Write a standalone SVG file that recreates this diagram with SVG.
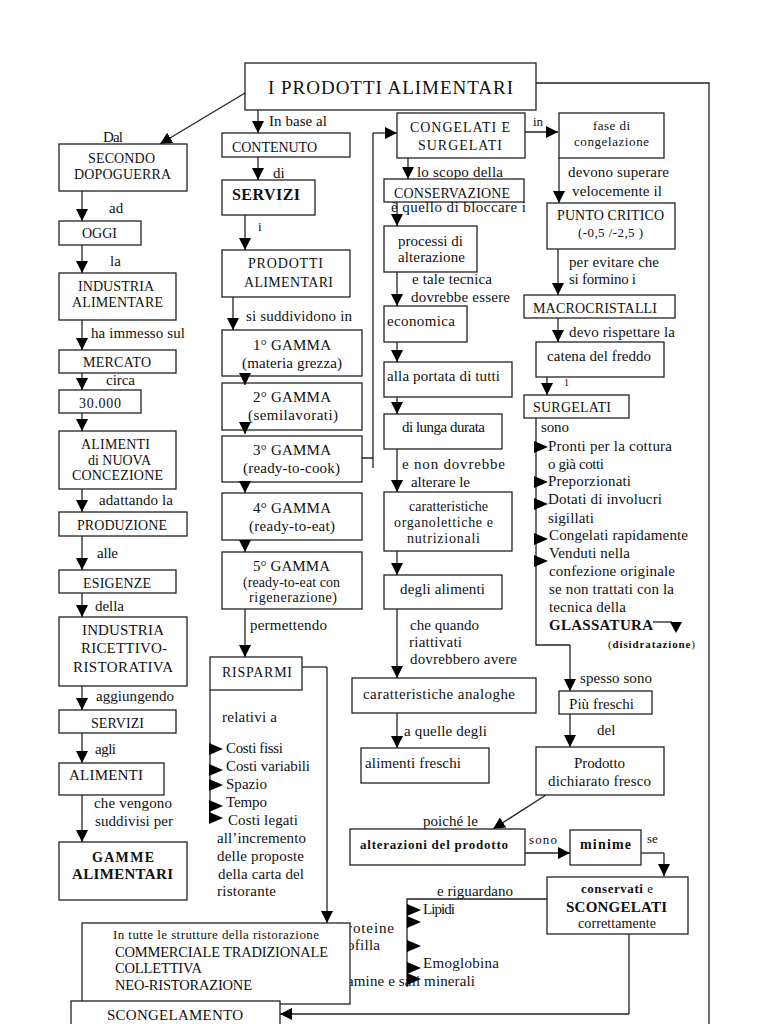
<svg xmlns="http://www.w3.org/2000/svg" width="768" height="1024" viewBox="0 0 768 1024">
<style>
.bx{fill:#fff;stroke:#222;stroke-width:1.3}
.ln{fill:none;stroke:#222;stroke-width:1.3}
.ar{marker-end:url(#ah)}
text{font-family:"Liberation Serif","Times New Roman",serif;fill:#111;font-size:14px}
.s16{font-size:16px}.s15{font-size:15px}.s13{font-size:13px}.s12{font-size:12px}.s11{font-size:11px}.s10{font-size:10px}
.b{font-weight:bold}.c{text-anchor:middle}
</style>
<defs>
<marker id="ah" viewBox="0 0 12 12" markerWidth="12" markerHeight="12" markerUnits="userSpaceOnUse" refX="12" refY="6" orient="auto"><path d="M0,0 L12,6 L0,12 z" fill="#000"/></marker>
<path id="bul" d="M0,-6 L14,0 L0,6 z" fill="#000"/>
</defs>
<rect width="768" height="1024" fill="#fff"/>

<g id="connectors">
<path class="ln ar" d="M245,93 L160,144"/>
<path class="ln ar" d="M82,191 V221"/>
<path class="ln ar" d="M82,245 V273"/>
<path class="ln ar" d="M82,320 V350"/>
<path class="ln ar" d="M82,373 V390"/>
<path class="ln ar" d="M82,413 V431"/>
<path class="ln ar" d="M82,489 V512"/>
<path class="ln ar" d="M82,536 V570"/>
<path class="ln ar" d="M82,593 V617"/>
<path class="ln ar" d="M82,686 V710"/>
<path class="ln ar" d="M82,733 V763"/>
<path class="ln ar" d="M82,795 V842"/>
<path class="ln ar" d="M258,110 V133"/>
<path class="ln ar" d="M258,157 V180"/>
<path class="ln ar" d="M245,215 V250"/>
<path class="ln ar" d="M233,297 V330"/>
<path class="ln" d="M362,458 H373 M373,468 V133"/>
<path class="ln ar" d="M373,133 H397"/>
<path class="ln ar" d="M245,609 V657"/>
<path class="ln" d="M302,667 H327"/>
<path class="ln ar" d="M327,667 V923"/>
<path class="ln" d="M210,690 V823"/>
<path class="ln ar" d="M525,132 H558"/>
<path class="ln ar" d="M559,158 V203"/>
<path class="ln ar" d="M558,249 V295"/>
<path class="ln ar" d="M558,318 V342"/>
<path class="ln ar" d="M547,377 V395"/>
<path class="ln" d="M536,418 V645 H570"/>
<path class="ln ar" d="M570,645 V691"/>
<path class="ln ar" d="M570,714 V747"/>
<path class="ln" d="M653,622 H672"/>
<path d="M670,622 L682,622 L676,633 z" fill="#000"/>
<path class="ln ar" d="M408,158 V179"/>
<path class="ln ar" d="M397,202 V226"/>
<path class="ln ar" d="M397,272 V306"/>
<path class="ln ar" d="M397,342 V362"/>
<path class="ln ar" d="M397,397 V414"/>
<path class="ln ar" d="M397,449 V492"/>
<path class="ln ar" d="M397,551 V575"/>
<path class="ln ar" d="M397,609 V678"/>
<path class="ln ar" d="M397,713 V748"/>
<path class="ln ar" d="M546,795 L493,829"/>
<path class="ln ar" d="M525,853 H570"/>
<path class="ln" d="M641,853 H664"/>
<path class="ln ar" d="M664,853 V876"/>
<path class="ln" d="M547,899 H407 V987"/>
<path class="ln" d="M629,934 V1014"/>
<path class="ln ar" d="M629,1014 H280"/>
<path class="ln" d="M536,83 H709 V1024"/>
</g>

<g id="n-top"><rect class="bx" x="245" y="63" width="291" height="47"/><text x="268" y="94" style="font-size:19px" textLength="245">I PRODOTTI ALIMENTARI</text></g>

<g id="n-secondo"><text x="103" y="142" class="s15" textLength="20">Dal</text><rect class="bx" x="59" y="144" width="128" height="47"/><text x="88" y="163" textLength="67">SECONDO</text><text x="74" y="179" textLength="97">DOPOGUERRA</text></g>
<text x="109" y="213" class="s15">ad</text>
<g id="n-oggi"><rect class="bx" x="59" y="221" width="82" height="24"/><text x="82" y="238" textLength="35">OGGI</text></g>
<text x="110" y="266" class="s15">la</text>
<g id="n-industria"><rect class="bx" x="59" y="273" width="117" height="47"/><text x="78" y="291" textLength="76">INDUSTRIA</text><text x="72" y="307" textLength="91">ALIMENTARE</text></g>
<text x="91" y="338" class="s15" textLength="94">ha immesso sul</text>
<g id="n-mercato"><rect class="bx" x="59" y="350" width="117" height="23"/><text x="83" y="367" textLength="68">MERCATO</text></g>
<text x="106" y="385" class="s15" textLength="29">circa</text>
<g id="n-30000"><rect class="bx" x="59" y="390" width="82" height="23"/><text x="79" y="408" textLength="42">30.000</text></g>
<g id="n-alimenti-nuova"><rect class="bx" x="59" y="431" width="117" height="58"/><text x="81" y="449" textLength="69">ALIMENTI</text><text x="88" y="465" textLength="63">di NUOVA</text><text x="72" y="480" textLength="91">CONCEZIONE</text></g>
<text x="99" y="505" class="s15" textLength="74">adattando la</text>
<g id="n-produzione"><rect class="bx" x="59" y="512" width="128" height="24"/><text x="77" y="530" textLength="90">PRODUZIONE</text></g>
<text x="97" y="558" class="s15" textLength="21">alle</text>
<g id="n-esigenze"><rect class="bx" x="59" y="570" width="117" height="23"/><text x="83" y="588" textLength="68">ESIGENZE</text></g>
<text x="95" y="611" class="s15" textLength="29">della</text>
<g id="n-ricettivo"><rect class="bx" x="59" y="617" width="128" height="69"/><text x="82" y="635" class="s15" textLength="82">INDUSTRIA</text><text x="81" y="653" class="s15" textLength="86">RICETTIVO-</text><text x="73" y="672" class="s15" textLength="100">RISTORATIVA</text></g>
<text x="96" y="701" class="s15" textLength="78">aggiungendo</text>
<g id="n-servizi-l"><rect class="bx" x="59" y="710" width="117" height="23"/><text x="91" y="728" textLength="53">SERVIZI</text></g>
<text x="95" y="754" class="s15" textLength="21">agli</text>
<g id="n-alimenti"><rect class="bx" x="59" y="763" width="105" height="32"/><text x="69" y="780" class="s15" textLength="74">ALIMENTI</text></g>
<text x="94" y="808" class="s15" textLength="78">che vengono</text>
<text x="95" y="826" class="s15" textLength="78">suddivisi per</text>
<g id="n-gamme"><rect class="bx" x="59" y="842" width="128" height="58"/><text x="92" y="862" class="b" textLength="62">GAMME</text><text x="72" y="879" class="b s15" textLength="101">ALIMENTARI</text></g>

<text x="269" y="126" class="s15" textLength="58">In base al</text>
<g id="n-contenuto"><rect class="bx" x="222" y="133" width="128" height="24"/><text x="232" y="152" textLength="85">CONTENUTO</text></g>
<text x="273" y="178" class="s15">di</text>
<g id="n-servizi"><rect class="bx" x="222" y="180" width="93" height="35"/><text x="232" y="200" class="b s16" textLength="68">SERVIZI</text></g>
<text x="258" y="231" class="s13">i</text>
<g id="n-prodotti"><rect class="bx" x="222" y="250" width="128" height="47"/><text x="248" y="268" textLength="75">PRODOTTI</text><text x="244" y="287" textLength="89">ALIMENTARI</text></g>
<text x="246" y="321" class="s15" textLength="106">si suddividono in</text>
<g id="n-g1"><rect class="bx" x="222" y="330" width="140" height="46"/><text x="253" y="350" class="s15" textLength="78">1° GAMMA</text><text x="242" y="368" class="s15" textLength="100">(materia grezza)</text></g>
<g id="n-g2"><rect class="bx" x="222" y="383" width="140" height="47"/><text x="253" y="402" class="s15" textLength="78">2° GAMMA</text><text x="248" y="420" class="s15" textLength="90">(semilavorati)</text></g>
<g id="n-g3"><rect class="bx" x="222" y="436" width="140" height="46"/><text x="253" y="455" class="s15" textLength="78">3° GAMMA</text><text x="243" y="473" class="s15" textLength="97">(ready-to-cook)</text></g>
<g id="n-g4"><rect class="bx" x="222" y="493" width="140" height="47"/><text x="253" y="513" class="s15" textLength="78">4° GAMMA</text><text x="249" y="531" class="s15" textLength="86">(ready-to-eat)</text></g>
<g id="n-g5"><rect class="bx" x="222" y="552" width="140" height="57"/><text x="253" y="571" class="s15" textLength="77">5° GAMMA</text><text x="243" y="587" textLength="97">(ready-to-eat con</text><text x="249" y="602" textLength="88">rigenerazione)</text></g>
<g id="gamma-arrows">
<path class="ln ar" d="M245,373 V385"/>
<path class="ln ar" d="M245,422 V434"/>
<path class="ln ar" d="M245,481 V493"/>
<path class="ln ar" d="M245,540 V552"/>
</g>
<text x="250" y="630" class="s15" textLength="77">permettendo</text>
<g id="n-risparmi"><rect class="bx" x="210" y="657" width="92" height="33"/><text x="222" y="677" textLength="70">RISPARMI</text>
<text x="222" y="722" class="s15" textLength="55">relativi a</text>
<text x="226" y="753" class="s15" textLength="57">Costi fissi</text>
<text x="226" y="771" class="s15" textLength="84">Costi variabili</text>
<text x="226" y="789" class="s15" textLength="41">Spazio</text>
<text x="226" y="807" class="s15" textLength="41">Tempo</text>
<text x="228" y="825" class="s15" textLength="70">Costi legati</text>
<text x="217" y="843" class="s15" textLength="89">all’incremento</text>
<text x="217" y="861" class="s15" textLength="87">delle proposte</text>
<text x="218" y="879" class="s15" textLength="86">della carta del</text>
<text x="217" y="896" class="s15" textLength="59">ristorante</text>
<use href="#bul" x="209" y="749"/><use href="#bul" x="209" y="770"/><use href="#bul" x="209" y="785"/><use href="#bul" x="209" y="806"/><use href="#bul" x="209" y="818"/>
</g>

<g id="n-congelati"><rect class="bx" x="397" y="113" width="128" height="45"/><text x="410" y="132" textLength="100">CONGELATI E</text><text x="418" y="150" textLength="84">SURGELATI</text></g>
<text x="533" y="126" class="s13">in</text>
<g id="n-fase"><rect class="bx" x="559" y="113" width="105" height="45"/><text x="593" y="130" class="s13" textLength="37">fase di</text><text x="574" y="146" class="s13" textLength="75">congelazione</text></g>
<text x="568" y="177" class="s15" textLength="101">devono superare</text>
<text x="572" y="196" class="s15" textLength="90">velocemente il</text>
<g id="n-punto"><rect class="bx" x="547" y="203" width="128" height="46"/><text x="557" y="220" textLength="107">PUNTO CRITICO</text><text x="578" y="237" class="s13" textLength="65">(-0,5 /-2,5 )</text></g>
<text x="569" y="267" class="s15" textLength="90">per evitare che</text>
<text x="569" y="284" class="s15" textLength="67">si formino i</text>
<g id="n-macro"><rect class="bx" x="524" y="295" width="151" height="23"/><text x="533" y="313" textLength="124">MACROCRISTALLI</text></g>
<text x="569" y="337" class="s15" textLength="106">devo rispettare la</text>
<g id="n-catena"><rect class="bx" x="536" y="342" width="128" height="35"/><text x="547" y="361" class="s15" textLength="104">catena del freddo</text></g>
<text x="564" y="386" class="s10">1</text>
<g id="n-surgelati"><rect class="bx" x="524" y="395" width="105" height="23"/><text x="533" y="412" textLength="78">SURGELATI</text>
<text x="541" y="432" class="s15" textLength="28">sono</text>
<text x="548" y="451" class="s15" textLength="124">Pronti per la cottura</text>
<text x="548" y="469" class="s15" textLength="56">o già cotti</text>
<text x="548" y="486" class="s15" textLength="83">Preporzionati</text>
<text x="548" y="504" class="s15" textLength="114">Dotati di involucri</text>
<text x="548" y="523" class="s15" textLength="46">sigillati</text>
<text x="549" y="540" class="s15" textLength="139">Congelati rapidamente</text>
<text x="549" y="558" class="s15" textLength="81">Venduti nella</text>
<text x="549" y="576" class="s15" textLength="126">confezione originale</text>
<text x="549" y="594" class="s15" textLength="125">se non trattati con la</text>
<text x="549" y="612" class="s15" textLength="77">tecnica della</text>
<text x="549" y="630" class="s15 b" textLength="104">GLASSATURA</text>
<text x="608" y="648" class="s11" textLength="87">(<tspan class="b">disidratazione</tspan>)</text>
<use href="#bul" x="534" y="447"/><use href="#bul" x="534" y="482"/><use href="#bul" x="534" y="504"/><use href="#bul" x="534" y="539"/><use href="#bul" x="534" y="561"/>
</g>
<text x="580" y="683" class="s15" textLength="72">spesso sono</text>
<g id="n-piu"><rect class="bx" x="559" y="691" width="93" height="23"/><text x="569" y="709" class="s15" textLength="65">Più freschi</text></g>
<text x="597" y="735" class="s15">del</text>
<g id="n-prodotto-fresco"><rect class="bx" x="536" y="747" width="128" height="48"/><text x="574" y="768" class="s15" textLength="51">Prodotto</text><text x="548" y="786" class="s15" textLength="103">dichiarato fresco</text></g>

<text x="417" y="177" class="s15" textLength="86">lo scopo della</text>
<g id="n-conservazione"><rect class="bx" x="384" y="179" width="140" height="23"/><text x="394" y="198" textLength="116">CONSERVAZIONE</text></g>
<text x="391" y="212" class="s15" textLength="135">è quello di bloccare i</text>
<g id="n-processi"><rect class="bx" x="384" y="226" width="93" height="46"/><text x="398" y="246" class="s15" textLength="65">processi di</text><text x="398" y="262" class="s15" textLength="67">alterazione</text></g>
<text x="412" y="284" class="s15" textLength="80">e tale tecnica</text>
<text x="411" y="302" class="s15" textLength="99">dovrebbe essere</text>
<g id="n-economica"><rect class="bx" x="384" y="306" width="83" height="36"/><text x="387" y="326" class="s15" textLength="68">economica</text></g>
<g id="n-portata"><rect class="bx" x="384" y="362" width="128" height="35"/><text x="387" y="381" class="s15" textLength="113">alla portata di tutti</text></g>
<g id="n-durata"><rect class="bx" x="384" y="414" width="118" height="35"/><text x="402" y="432" class="s15" textLength="83">di lunga durata</text></g>
<text x="402" y="469" class="s15" textLength="103">e non dovrebbe</text>
<text x="411" y="487" class="s15" textLength="59">alterare le</text>
<g id="n-organolettiche"><rect class="bx" x="384" y="492" width="128" height="59"/><text x="409" y="511" textLength="79">caratteristiche</text><text x="394" y="527" textLength="99">organolettiche e</text><text x="407" y="543" textLength="73">nutrizionali</text></g>
<g id="n-degli"><rect class="bx" x="384" y="575" width="118" height="34"/><text x="400" y="594" class="s15" textLength="85">degli alimenti</text></g>
<text x="410" y="630" class="s15" textLength="69">che quando</text>
<text x="409" y="647" class="s15" textLength="53">riattivati</text>
<text x="410" y="664" class="s15" textLength="107">dovrebbero avere</text>
<g id="n-analoghe"><rect class="bx" x="352" y="678" width="184" height="35"/><text x="363" y="699" class="s15" textLength="152">caratteristiche analoghe</text></g>
<text x="404" y="736" class="s15" textLength="83">a quelle degli</text>
<g id="n-freschi"><rect class="bx" x="361" y="748" width="128" height="35"/><text x="365" y="768" class="s15" textLength="96">alimenti freschi</text></g>

<text x="423" y="826" class="s15" textLength="55">poiché le</text>
<g id="n-alterazioni"><rect class="bx" x="350" y="829" width="175" height="36"/><text x="360" y="849" class="s13 b" textLength="148">alterazioni del prodotto</text></g>
<text x="529" y="844" class="s13" textLength="28">sono</text>
<g id="n-minime"><rect class="bx" x="570" y="830" width="71" height="35"/><text x="580" y="849" class="b" textLength="51">minime</text></g>
<text x="647" y="843" class="s13">se</text>
<g id="n-conservati"><rect class="bx" x="547" y="877" width="141" height="57"/><text x="581" y="893" class="s13" textLength="72"><tspan class="b">conservati</tspan> e</text><text x="566" y="912" class="b s15" textLength="101">SCONGELATI</text><text x="578" y="928" textLength="78">correttamente</text></g>
<text x="437" y="896" class="s15" textLength="76">e riguardano</text>
<text x="347" y="933" class="s15" textLength="47">roteine</text>
<text x="347" y="950" class="s15" textLength="33">ofilla</text>
<text x="347" y="986" class="s15" textLength="128">amine e sali minerali</text>
<g id="n-lipidi"><text x="423" y="914" class="s15" textLength="32">Lipidi</text><text x="423" y="968" class="s15" textLength="76">Emoglobina</text>
<use href="#bul" x="407" y="910"/><use href="#bul" x="407" y="922"/><use href="#bul" x="407" y="946"/><use href="#bul" x="407" y="968"/><use href="#bul" x="407" y="979"/></g>

<g id="n-strutture"><rect class="bx" x="82" y="923" width="268" height="81"/><text x="113" y="939" class="s13" textLength="206">In tutte le strutture della ristorazione</text><text x="115" y="957" style="font-size:14.5px" textLength="213">COMMERCIALE TRADIZIONALE</text><text x="115" y="973" style="font-size:14.5px" textLength="87">COLLETTIVA</text><text x="115" y="990" style="font-size:14.5px" textLength="137">NEO-RISTORAZIONE</text></g>
<g id="n-scongelamento"><rect class="bx" x="71" y="1001" width="209" height="30"/><text x="107" y="1020" class="s15" textLength="136">SCONGELAMENTO</text></g>
</svg>
